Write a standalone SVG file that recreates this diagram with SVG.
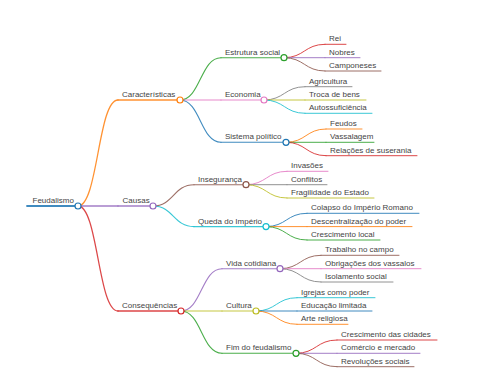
<svg xmlns="http://www.w3.org/2000/svg" width="480" height="384" viewBox="0 0 480 384">
<style>
text{font-family:"Liberation Sans",Arial,sans-serif;font-size:8px;fill:#444}
path,line{fill:none;stroke-linecap:round;stroke-opacity:0.85}
circle{fill:#fff;stroke-width:1.2}
.l0{stroke-width:1.8}.l1{stroke-width:1.3}.l2{stroke-width:1.1}.l3{stroke-width:1}
.c0{stroke:#1f77b4}.c1{stroke:#ff7f0e}.c2{stroke:#2ca02c}.c3{stroke:#d62728}.c4{stroke:#9467bd}.c5{stroke:#8c564b}.c6{stroke:#e377c2}.c7{stroke:#7f7f7f}.c8{stroke:#bcbd22}.c9{stroke:#17becf}
</style>
<rect width="480" height="384" fill="#fff"/>
<g id="connectors">
<path class="l1 c1" d="M78 206C98 206 98 100 118 100"/>
<path class="l1 c4" d="M78 206L118 206"/>
<path class="l1 c3" d="M78 206C98 206 98 311 118 311"/>
<path class="l2 c2" d="M180 100C200.5 100 200.5 57.7 221 57.7"/>
<path class="l2 c6" d="M180 100L221 100"/>
<path class="l2 c0" d="M180 100C200.5 100 200.5 142.3 221 142.3"/>
<path class="l2 c5" d="M153 206C173.5 206 173.5 184.7 194 184.7"/>
<path class="l2 c9" d="M153 206C173.5 206 173.5 226.6 194 226.6"/>
<path class="l2 c4" d="M181 311C201.5 311 201.5 268.7 222 268.7"/>
<path class="l2 c8" d="M181 311L222 311"/>
<path class="l2 c2" d="M181 311C201.5 311 201.5 353.3 222 353.3"/>
<path class="l3 c3" d="M284 57.7C304.5 57.7 304.5 44.3 325 44.3"/>
<path class="l3 c4" d="M284 57.7L325 57.7"/>
<path class="l3 c5" d="M284 57.7C304.5 57.7 304.5 71 325 71"/>
<path class="l3 c7" d="M264 100C284.5 100 284.5 86.7 305 86.7"/>
<path class="l3 c8" d="M264 100L305 100"/>
<path class="l3 c9" d="M264 100C284.5 100 284.5 113.3 305 113.3"/>
<path class="l3 c1" d="M286 142.3C306 142.3 306 129 326 129"/>
<path class="l3 c2" d="M286 142.3L326 142.3"/>
<path class="l3 c3" d="M286 142.3C306 142.3 306 155.7 326 155.7"/>
<path class="l3 c6" d="M246 184.7C266.5 184.7 266.5 171.3 287 171.3"/>
<path class="l3 c7" d="M246 184.7L287 184.7"/>
<path class="l3 c8" d="M246 184.7C266.5 184.7 266.5 198 287 198"/>
<path class="l3 c0" d="M266 226.6C286.5 226.6 286.5 213.3 307 213.3"/>
<path class="l3 c1" d="M266 226.6L307 226.6"/>
<path class="l3 c2" d="M266 226.6C286.5 226.6 286.5 240 307 240"/>
<path class="l3 c5" d="M280 268.7C300.5 268.7 300.5 255.3 321 255.3"/>
<path class="l3 c6" d="M280 268.7L321 268.7"/>
<path class="l3 c7" d="M280 268.7C300.5 268.7 300.5 282 321 282"/>
<path class="l3 c9" d="M256 311C276.5 311 276.5 297.7 297 297.7"/>
<path class="l3 c0" d="M256 311L297 311"/>
<path class="l3 c1" d="M256 311C276.5 311 276.5 324.3 297 324.3"/>
<path class="l3 c3" d="M296 353.3C316.5 353.3 316.5 340 337 340"/>
<path class="l3 c4" d="M296 353.3L337 353.3"/>
<path class="l3 c5" d="M296 353.3C316.5 353.3 316.5 366.7 337 366.7"/>
</g>
<g id="n-feudalismo"><line class="l0 c0" x1="27" y1="206" x2="78" y2="206"/><text x="32.5" y="203">Feudalismo</text><circle class="c0" cx="78" cy="206" r="3"/></g>
<g id="n-caracteristicas"><line class="l1 c1" x1="118" y1="100" x2="180" y2="100"/><text x="122" y="97">Características</text><circle class="c1" cx="180" cy="100" r="3"/></g>
<g id="n-causas"><line class="l1 c4" x1="118" y1="206" x2="153" y2="206"/><text x="122.5" y="203">Causas</text><circle class="c4" cx="153" cy="206" r="3"/></g>
<g id="n-consequencias"><line class="l1 c3" x1="118" y1="311" x2="181" y2="311"/><text x="122" y="308">Consequências</text><circle class="c3" cx="181" cy="311" r="3"/></g>
<g id="n-estrutura"><line class="l2 c2" x1="221" y1="57.7" x2="284" y2="57.7"/><text x="225" y="54.7">Estrutura social</text><circle class="c2" cx="284" cy="57.7" r="3"/></g>
<g id="n-economia"><line class="l2 c6" x1="221" y1="100" x2="264" y2="100"/><text x="225" y="97">Economia</text><circle class="c6" cx="264" cy="100" r="3"/></g>
<g id="n-sistema"><line class="l2 c0" x1="221" y1="142.3" x2="286" y2="142.3"/><text x="225" y="139.3">Sistema político</text><circle class="c0" cx="286" cy="142.3" r="3"/></g>
<g id="n-inseguranca"><line class="l2 c5" x1="194" y1="184.7" x2="246" y2="184.7"/><text x="198" y="181.7">Insegurança</text><circle class="c5" cx="246" cy="184.7" r="3"/></g>
<g id="n-queda"><line class="l2 c9" x1="194" y1="226.6" x2="266" y2="226.6"/><text x="198" y="223.6">Queda do Império</text><circle class="c9" cx="266" cy="226.6" r="3"/></g>
<g id="n-vida"><line class="l2 c4" x1="222" y1="268.7" x2="280" y2="268.7"/><text x="226" y="265.7">Vida cotidiana</text><circle class="c4" cx="280" cy="268.7" r="3"/></g>
<g id="n-cultura"><line class="l2 c8" x1="222" y1="311" x2="256" y2="311"/><text x="226" y="308">Cultura</text><circle class="c8" cx="256" cy="311" r="3"/></g>
<g id="n-fim"><line class="l2 c2" x1="222" y1="353.3" x2="296" y2="353.3"/><text x="226" y="350.3">Fim do feudalismo</text><circle class="c2" cx="296" cy="353.3" r="3"/></g>
<g id="n-rei"><line class="l3 c3" x1="325" y1="44.3" x2="346" y2="44.3"/><text x="329" y="41.3">Rei</text></g>
<g id="n-nobres"><line class="l3 c4" x1="325" y1="57.7" x2="360" y2="57.7"/><text x="329" y="54.7">Nobres</text></g>
<g id="n-camponeses"><line class="l3 c5" x1="325" y1="71" x2="381" y2="71"/><text x="329" y="68">Camponeses</text></g>
<g id="n-agricultura"><line class="l3 c7" x1="305" y1="86.7" x2="352" y2="86.7"/><text x="309" y="83.7">Agricultura</text></g>
<g id="n-troca"><line class="l3 c8" x1="305" y1="100" x2="366" y2="100"/><text x="309" y="97">Troca de bens</text></g>
<g id="n-autossuficiencia"><line class="l3 c9" x1="305" y1="113.3" x2="372" y2="113.3"/><text x="309" y="110.3">Autossuficiência</text></g>
<g id="n-feudos"><line class="l3 c1" x1="326" y1="129" x2="362" y2="129"/><text x="330" y="126">Feudos</text></g>
<g id="n-vassalagem"><line class="l3 c2" x1="326" y1="142.3" x2="374" y2="142.3"/><text x="330" y="139.3">Vassalagem</text></g>
<g id="n-relacoes"><line class="l3 c3" x1="326" y1="155.7" x2="417" y2="155.7"/><text x="330" y="152.7">Relações de suserania</text></g>
<g id="n-invasoes"><line class="l3 c6" x1="287" y1="171.3" x2="328" y2="171.3"/><text x="291" y="168.3">Invasões</text></g>
<g id="n-conflitos"><line class="l3 c7" x1="287" y1="184.7" x2="327" y2="184.7"/><text x="291" y="181.7">Conflitos</text></g>
<g id="n-fragilidade"><line class="l3 c8" x1="287" y1="198" x2="374" y2="198"/><text x="291" y="195">Fragilidade do Estado</text></g>
<g id="n-colapso"><line class="l3 c0" x1="307" y1="213.3" x2="419" y2="213.3"/><text x="311" y="210.3">Colapso do Império Romano</text></g>
<g id="n-descentralizacao"><line class="l3 c1" x1="307" y1="226.6" x2="412" y2="226.6"/><text x="311" y="223.6">Descentralização do poder</text></g>
<g id="n-crescimento-local"><line class="l3 c2" x1="307" y1="240" x2="380" y2="240"/><text x="311" y="237">Crescimento local</text></g>
<g id="n-trabalho"><line class="l3 c5" x1="321" y1="255.3" x2="399" y2="255.3"/><text x="325" y="252.3">Trabalho no campo</text></g>
<g id="n-obrigacoes"><line class="l3 c6" x1="321" y1="268.7" x2="421" y2="268.7"/><text x="325" y="265.7">Obrigações dos vassalos</text></g>
<g id="n-isolamento"><line class="l3 c7" x1="321" y1="282" x2="393" y2="282"/><text x="325" y="279">Isolamento social</text></g>
<g id="n-igrejas"><line class="l3 c9" x1="297" y1="297.7" x2="375" y2="297.7"/><text x="301" y="294.7">Igrejas como poder</text></g>
<g id="n-educacao"><line class="l3 c0" x1="297" y1="311" x2="372" y2="311"/><text x="301" y="308">Educação limitada</text></g>
<g id="n-arte"><line class="l3 c1" x1="297" y1="324.3" x2="348" y2="324.3"/><text x="301" y="321.3">Arte religiosa</text></g>
<g id="n-cidades"><line class="l3 c3" x1="337" y1="340" x2="437" y2="340"/><text x="341" y="337">Crescimento das cidades</text></g>
<g id="n-comercio"><line class="l3 c4" x1="337" y1="353.3" x2="420" y2="353.3"/><text x="341" y="350.3">Comércio e mercado</text></g>
<g id="n-revolucoes"><line class="l3 c5" x1="337" y1="366.7" x2="414" y2="366.7"/><text x="341" y="363.7">Revoluções sociais</text></g>
</svg>
